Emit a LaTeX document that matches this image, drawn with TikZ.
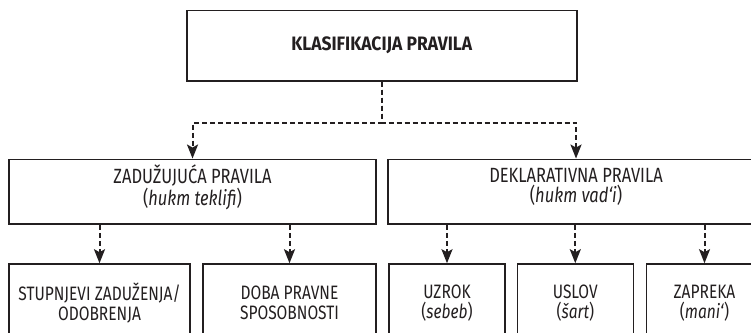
\documentclass[tikz,border=0pt]{standalone}
\usepackage{fontspec}
\setmainfont{Fira Sans}[FakeStretch=0.8, BoldFeatures={FakeStretch=0.9}]
\usetikzlibrary{arrows.meta,positioning}
\definecolor{inkline}{HTML}{231F20}

\begin{document}
\begin{tikzpicture}[x=1pt, y=1pt, every node/.style={draw=inkline, line width=1.6pt, rectangle, align=center, text=inkline, font=\fontsize{19.4}{19.8}\selectfont}, link/.style={draw=inkline, line width=2pt, dash pattern=on 5pt off 3pt, -{Stealth[length=14pt, width=11pt, inset=3pt]}}, group/.style={minimum height=64.7pt, text depth=13pt, font=\fontsize{20.6}{19.8}\selectfont}]
        \path[use as bounding box, clip] (0,0) rectangle (751,332);
        % Nodes
        \node (top) [minimum width=390pt, minimum height=70.5pt, font=\bfseries\fontsize{19.4}{19.8}\selectfont] at (381.7,286.3) {KLASIFIKACIJA PRAVILA};
        \node (zad) [below of=top, node distance=146pt, xshift=-189.2pt, minimum width=367pt, group] {ZADUŽUJUĆA PRAVILA\\(\textit{hukm teklifi})};
        \node (dek) [below of=top, node distance=146pt, xshift=194.3pt, minimum width=376pt, group] {DEKLARATIVNA PRAVILA\\(\textit{hukm vad‘i})};
        \node (stu) [below of=zad, node distance=111.3pt, xshift=-93pt, minimum width=181pt, minimum height=78pt] {STUPNJEVI ZADUŽENJA/\\ODOBRENJA};
        \node (dob) [below of=zad, node distance=111.3pt, xshift=97pt, minimum width=173pt, minimum height=78pt] {DOBA PRAVNE\\SPOSOBNOSTI};
        \node (uzr) [below of=dek, node distance=111.3pt, xshift=-129pt, minimum width=116pt, minimum height=78pt] {UZROK\\(\textit{sebeb})};
        \node (usl) [below of=dek, node distance=111.3pt, xshift=-0.7pt, minimum width=116pt, minimum height=78pt] {USLOV\\(\textit{šart})};
        \node (zap) [below of=dek, node distance=111.3pt, xshift=128.5pt, minimum width=116pt, minimum height=78pt] {ZAPREKA\\(\textit{mani‘})};

        % Connectors
        \draw [link] (top.south) -- ++(0,-41) -| (zad.north);
        \draw [link] (top.south) -- ++(0,-41) -| (dek.north);
        \draw [link] (zad.south -| stu.north) -- (stu.north);
        \draw [link] (zad.south -| dob.north) -- (dob.north);
        \draw [link] (dek.south -| uzr.north) -- (uzr.north);
        \draw [link] (dek.south -| usl.north) -- (usl.north);
        \draw [link] (dek.south -| zap.north) -- (zap.north);
    \end{tikzpicture}
\end{document}
